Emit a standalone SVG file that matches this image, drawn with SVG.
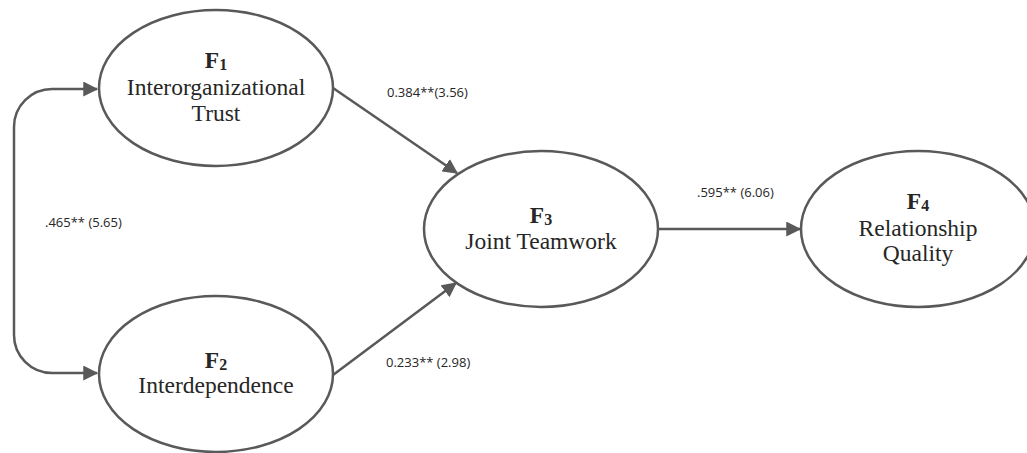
<svg xmlns="http://www.w3.org/2000/svg" width="1027" height="453" viewBox="0 0 1027 453">
<style>
.node{fill:#fff;stroke:#595959;stroke-width:2.5}
.lbl{font-family:"Liberation Serif","DejaVu Serif",serif;font-size:23.5px;fill:#262626;text-anchor:middle}
.fb{font-weight:bold}
.sub{font-size:16px}
.edge{fill:none;stroke:#595959;stroke-width:2.5}
.el{font-family:"Open Sans","Liberation Sans",sans-serif;font-size:13px;fill:#262626}
</style>
<defs>
<marker id="ah" markerWidth="6" markerHeight="6" refX="5.5" refY="3" orient="auto-start-reverse" markerUnits="strokeWidth">
<path d="M0,0 L6,3 L0,6 z" fill="#595959"/>
</marker>
</defs>
<rect width="1027" height="453" fill="#fff"/>
<g id="connectors">
<path class="edge" d="M97,89 H52 A38,38 0 0 0 14,127 V335 A38,38 0 0 0 52,373 H97" marker-start="url(#ah)" marker-end="url(#ah)"/>
<line class="edge" x1="333" y1="88" x2="457" y2="173" marker-end="url(#ah)"/>
<line class="edge" x1="333" y1="375" x2="456" y2="283" marker-end="url(#ah)"/>
<line class="edge" x1="659" y1="229" x2="800" y2="229" marker-end="url(#ah)"/>
<text class="el" x="45" y="227">.465** (5.65)</text>
<text class="el" x="387" y="97">0.384**(3.56)</text>
<text class="el" x="386" y="367">0.233** (2.98)</text>
<text class="el" x="697" y="197">.595** (6.06)</text>
</g>
<g id="F1">
<ellipse class="node" cx="216" cy="88" rx="117" ry="78"/>
<text class="lbl" x="216" y="68"><tspan class="fb">F</tspan><tspan class="fb sub" dy="2">1</tspan></text>
<text class="lbl" x="216" y="95">Interorganizational</text>
<text class="lbl" x="216" y="121">Trust</text>
</g>
<g id="F2">
<ellipse class="node" cx="216" cy="374" rx="117" ry="78"/>
<text class="lbl" x="216" y="368"><tspan class="fb">F</tspan><tspan class="fb sub" dy="2">2</tspan></text>
<text class="lbl" x="216" y="393">Interdependence</text>
</g>
<g id="F3">
<ellipse class="node" cx="541" cy="229" rx="117" ry="78"/>
<text class="lbl" x="541" y="223"><tspan class="fb">F</tspan><tspan class="fb sub" dy="2">3</tspan></text>
<text class="lbl" x="541" y="249">Joint Teamwork</text>
</g>
<g id="F4">
<ellipse class="node" cx="918" cy="229" rx="117" ry="78"/>
<text class="lbl" x="918" y="209"><tspan class="fb">F</tspan><tspan class="fb sub" dy="2">4</tspan></text>
<text class="lbl" x="918" y="236">Relationship</text>
<text class="lbl" x="918" y="261">Quality</text>
</g>
</svg>
